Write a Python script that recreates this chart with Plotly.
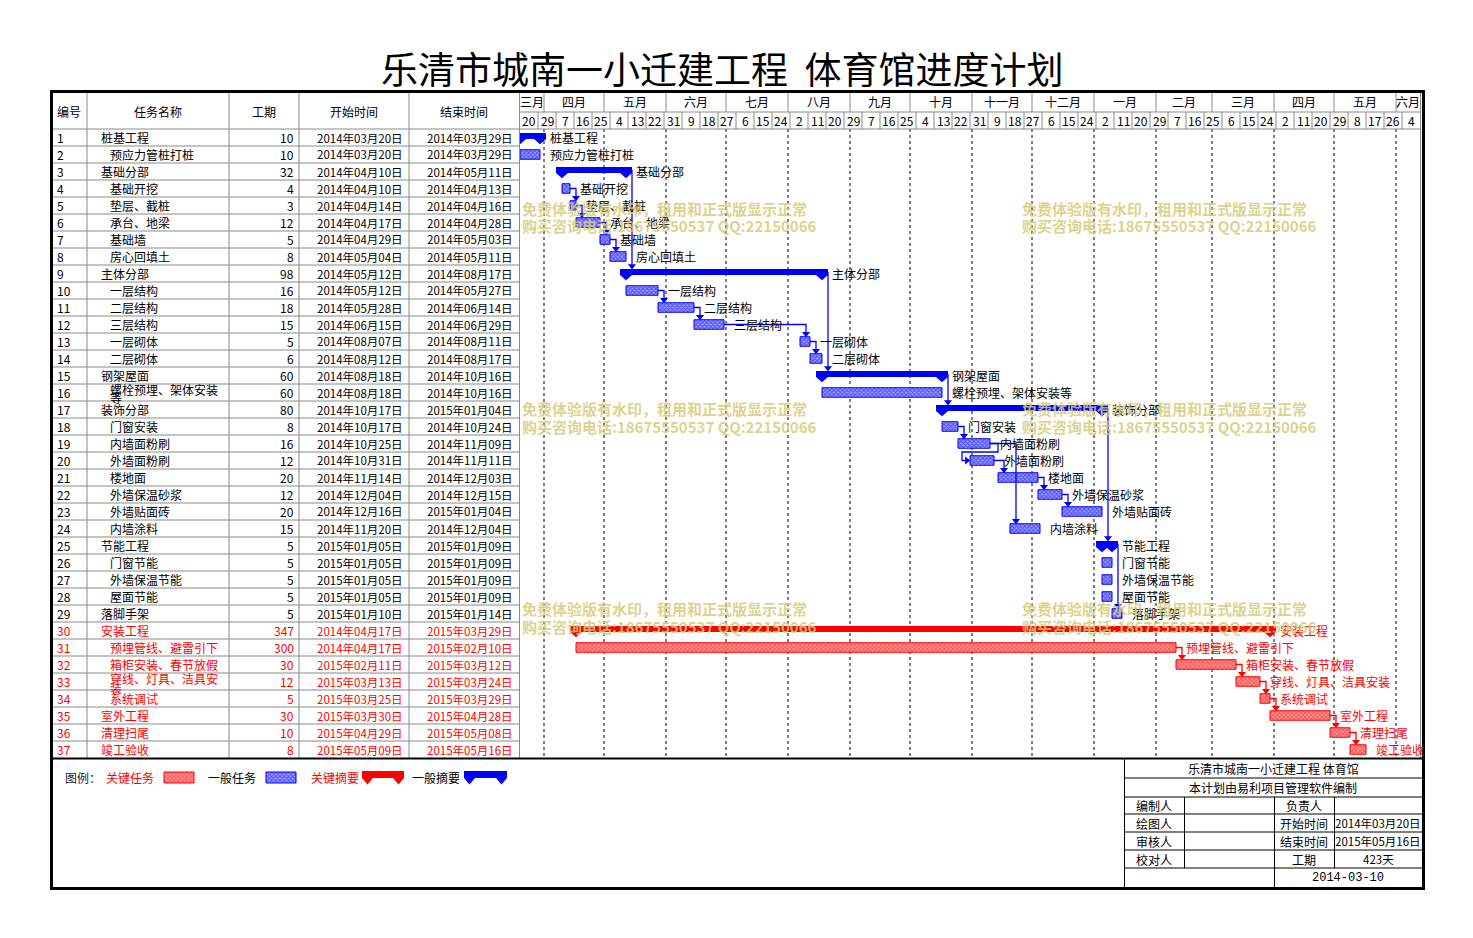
import plotly.graph_objects as go
from datetime import datetime, timedelta

W, H = 1473, 938

# ---------------- data ----------------
project_name = "乐清市城南一小迁建工程"
building_name = "体育馆"
plan_title = project_name + "  " + building_name + "进度计划"
software_note = "本计划由易利项目管理软件编制"
plan_date = "2014-03-10"

ids = list(range(1, 38))
names = [
    "桩基工程", "预应力管桩打桩", "基础分部", "基础开挖", "垫层、截桩", "承台、地梁", "基础墙", "房心回填土",
    "主体分部", "一层结构", "二层结构", "三层结构", "一层砌体", "二层砌体", "钢架屋面", "螺栓预埋、架体安装等",
    "装饰分部", "门窗安装", "内墙面粉刷", "外墙面粉刷", "楼地面", "外墙保温砂浆", "外墙贴面砖", "内墙涂料",
    "节能工程", "门窗节能", "外墙保温节能", "屋面节能", "落脚手架", "安装工程", "预埋管线、避雷引下",
    "箱柜安装、春节放假", "穿线、灯具、洁具安装", "系统调试", "室外工程", "清理扫尾", "竣工验收"]
levels = [1, 2, 1, 2, 2, 2, 2, 2, 1, 2, 2, 2, 2, 2, 1, 2, 1, 2, 2, 2, 2, 2, 2, 2,
          1, 2, 2, 2, 1, 1, 2, 2, 2, 2, 1, 1, 1]
durations = [10, 10, 32, 4, 3, 12, 5, 8, 98, 16, 18, 15, 5, 6, 60, 60, 80, 8, 16, 12, 20, 12, 20, 15,
             5, 5, 5, 5, 5, 347, 300, 30, 12, 5, 30, 10, 8]
starts = ["2014-03-20", "2014-03-20", "2014-04-10", "2014-04-10", "2014-04-14", "2014-04-17", "2014-04-29",
          "2014-05-04", "2014-05-12", "2014-05-12", "2014-05-28", "2014-06-15", "2014-08-07", "2014-08-12",
          "2014-08-18", "2014-08-18", "2014-10-17", "2014-10-17", "2014-10-25", "2014-10-31", "2014-11-14",
          "2014-12-04", "2014-12-16", "2014-11-20", "2015-01-05", "2015-01-05", "2015-01-05", "2015-01-05",
          "2015-01-10", "2014-04-17", "2014-04-17", "2015-02-11", "2015-03-13", "2015-03-25", "2015-03-30",
          "2015-04-29", "2015-05-09"]
ends = ["2014-03-29", "2014-03-29", "2014-05-11", "2014-04-13", "2014-04-16", "2014-04-28", "2014-05-03",
        "2014-05-11", "2014-08-17", "2014-05-27", "2014-06-14", "2014-06-29", "2014-08-11", "2014-08-17",
        "2014-10-16", "2014-10-16", "2015-01-04", "2014-10-24", "2014-11-09", "2014-11-11", "2014-12-03",
        "2014-12-15", "2015-01-04", "2014-12-04", "2015-01-09", "2015-01-09", "2015-01-09", "2015-01-09",
        "2015-01-14", "2015-03-29", "2015-02-10", "2015-03-12", "2015-03-24", "2015-03-29", "2015-04-28",
        "2015-05-08", "2015-05-16"]
summary_ids = [1, 3, 9, 15, 17, 25, 30]
critical_ids = [30, 31, 32, 33, 34, 35, 36, 37]
fs_links = [(4, 5), (5, 6), (6, 7), (7, 8), (3, 9), (10, 11), (11, 12), (12, 13), (13, 14), (9, 15),
            (15, 17), (18, 19), (20, 21), (21, 22), (22, 23), (19, 24), (17, 25), (25, 29),
            (31, 32), (32, 33), (33, 34), (34, 35), (35, 36), (36, 37)]
ss_links = [(19, 20)]

header_cols = ["编号", "任务名称", "工期", "开始时间", "结束时间"]
month_names_cn = ["一月", "二月", "三月", "四月", "五月", "六月", "七月", "八月", "九月", "十月", "十一月", "十二月"]
timeline_start = "2014-03-20"
timeline_end = "2015-06-13"
tick_step_days = 9
legend_labels = ["关键任务", "一般任务", "关键摘要", "一般摘要"]
info_labels = ["编制人", "负责人", "绘图人", "开始时间", "审核人", "结束时间", "校对人", "工期"]
watermark_lines = ["免费体验版有水印，租用和正式版显示正常", "购买咨询电话:18675550537 QQ:22150066"]

# ---------------- layout constants (pixels) ----------------
FONT = "Noto Sans CJK SC"
BLUE = "#0000ff"
RED = "#ff0000"
GRAY = "#8a8a8a"
ROW_TOP, ROW_H = 129, 17
GX0, GX1 = 520, 1420            # gantt area
COLS = [50, 87, 229, 299, 409, 519.5]

def d(s):
    return datetime.strptime(s, "%Y-%m-%d")

DAY = timedelta(days=1)

def px(x):
    return x / W

def py(y):
    return 1 - y / H

def ds(t):
    return t.strftime("%Y-%m-%d %H:%M:%S")

n = len(ids)
crit = [i in critical_ids for i in ids]
is_sum = [i in summary_ids for i in ids]
sdt = [d(s) for s in starts]
edt = [d(e) + DAY for e in ends]          # exclusive end

shapes = []
annotations = []

def hline(y, x0, x1, color=GRAY, width=1, dash="solid"):
    shapes.append(dict(type="line", xref="paper", yref="paper", x0=px(x0), x1=px(x1), y0=py(y), y1=py(y),
                       line=dict(color=color, width=width, dash=dash)))

def vline(x, y0, y1, color=GRAY, width=1, dash="solid"):
    shapes.append(dict(type="line", xref="paper", yref="paper", x0=px(x), x1=px(x), y0=py(y0), y1=py(y1),
                       line=dict(color=color, width=width, dash=dash)))

def text(x, y, s, color="black", size=12, anchor="left", bold=False, family=FONT):
    annotations.append(dict(xref="paper", yref="paper", x=px(x), y=py(y), text=("<b>%s</b>" % s) if bold else s,
                            showarrow=False, xanchor=anchor, yanchor="middle",
                            font=dict(family=family, size=size, color=color)))

fig = go.Figure()

# ---------------- title ----------------
text(722, 68, plan_title, size=37, anchor="center")

# ---------------- table ----------------
for k in range(n):
    hline(ROW_TOP + ROW_H * k, 50, GX0)
hline(ROW_TOP, GX0, GX1)
hline(112, GX0, GX1)
for c in COLS[1:]:
    vline(c, 93, 758)
vline(GX1 + 0.5, 93, 758)
hdr_centers = [(COLS[i] + COLS[i + 1]) / 2 for i in range(5)]
for hc, h in zip(hdr_centers, header_cols):
    text(hc, 111, h, anchor="center")

for k in range(n):
    yc = ROW_TOP + ROW_H * (k + 0.5)
    col = RED if crit[k] else "black"
    text(55, yc, str(ids[k]), col)
    nx = 99 if levels[k] == 1 else 108
    nm = names[k]
    if len(nm) > 9:
        text(nx, yc - 3.5, nm[:9], col)
        text(nx, yc + 5.5, nm[9:], col)
    else:
        text(nx, yc, nm, col)
    text(296, yc, str(durations[k]), col, anchor="right")
    text(405, yc, sdt[k].strftime("%Y年%m月%d日"), col, anchor="right", size=11.5)
    text(515, yc, d(ends[k]).strftime("%Y年%m月%d日"), col, anchor="right", size=11.5)

# ---------------- timeline header ----------------
t0, t1 = d(timeline_start), d(timeline_end)
m = datetime(t0.year, t0.month, 1)
while m < t1:
    nm_ = datetime(m.year + (m.month // 12), m.month % 12 + 1, 1)
    a, b = max(m, t0), min(nm_, t1)
    mid = a + (b - a) / 2
    annotations.append(dict(xref="x", yref="paper", x=ds(mid), y=py(102), text=month_names_cn[m.month - 1],
                            showarrow=False, xanchor="center", yanchor="middle",
                            font=dict(family=FONT, size=12, color="black")))
    if m > t0:
        shapes.append(dict(type="line", xref="x", yref="paper", x0=ds(m), x1=ds(m), y0=py(93), y1=py(112),
                           line=dict(color=GRAY, width=1)))
        shapes.append(dict(type="line", xref="x", yref="paper", x0=ds(m), x1=ds(m), y0=py(129), y1=py(758),
                           line=dict(color="black", width=1, dash="dot"), layer="below"))
    m = nm_
t = t0
while t < t1:
    tn = min(t + timedelta(days=tick_step_days), t1)
    mid = t + (tn - t) / 2
    annotations.append(dict(xref="x", yref="paper", x=ds(mid), y=py(120.5), text=str(t.day),
                            showarrow=False, xanchor="center", yanchor="middle",
                            font=dict(family=FONT, size=12, color="black")))
    if t > t0:
        shapes.append(dict(type="line", xref="x", yref="paper", x0=ds(t), x1=ds(t), y0=py(112), y1=py(129),
                           line=dict(color=GRAY, width=1)))
    t = tn

# ---------------- gantt bars ----------------
def pattern(c, bg):
    return dict(color=bg, line=dict(color=c, width=1),
                pattern=dict(shape="x", fgcolor=c, bgcolor=bg, size=3, solidity=0.5))

LIGHT = {BLUE: "#9a9aff", RED: "#ff9a9a"}
for flag, c in [(False, BLUE), (True, RED)]:
    idx = [k for k in range(n) if not is_sum[k] and crit[k] == flag]
    fig.add_trace(go.Bar(
        orientation="h", y=[ids[k] for k in idx], base=[starts[k] for k in idx],
        x=[(edt[k] - sdt[k]).total_seconds() * 1000 for k in idx],
        width=0.56, marker=pattern(c, LIGHT[c]), xaxis="x", yaxis="y", hoverinfo="skip", showlegend=False))

HALF = timedelta(days=3)
for k in range(n):
    if not is_sum[k]:
        continue
    r = ids[k]
    s, e = sdt[k], edt[k]
    top, bot, apex = r - 0.27, r + 0.09, r + 0.40
    xs = [s - HALF, e + HALF, e + HALF, s - HALF, s - HALF, None,
          s - HALF, s + HALF, s, s - HALF, None,
          e - HALF, e + HALF, e, e - HALF]
    ys = [top, top, bot, bot, top, None, bot, bot, apex, bot, None, bot, bot, apex, bot]
    c = RED if crit[k] else BLUE
    fig.add_trace(go.Scatter(x=xs, y=ys, mode="lines", fill="toself", fillcolor=c, line=dict(width=0, color=c),
                             xaxis="x", yaxis="y", hoverinfo="skip", showlegend=False))

# ---------------- links ----------------
link_x = {BLUE: [], RED: []}
link_y = {BLUE: [], RED: []}
arr = {BLUE: ([], [], []), RED: ([], [], [])}
for p, q in fs_links:
    kp, kq = p - 1, q - 1
    c = RED if crit[kq] else BLUE
    ax = sdt[kq] + timedelta(days=3)
    top = q - (0.27 if is_sum[kq] else 0.28)
    if is_sum[kp]:
        x0, y0 = edt[kp] + HALF, p - 0.09
    else:
        x0, y0 = edt[kp], p
    link_x[c] += [x0, ax, ax, None]
    link_y[c] += [y0, y0, top - 0.1, None]
    arr[c][0].append(ax); arr[c][1].append(top - 0.17); arr[c][2].append("triangle-down")
for p, q in ss_links:
    kp, kq = p - 1, q - 1
    c = RED if crit[kq] else BLUE
    xa = edt[kp] + timedelta(days=4)
    xb = sdt[kq] - timedelta(days=4)
    mid_y = (p + q) / 2
    link_x[c] += [edt[kp], xa, xa, xb, xb, sdt[kq] - timedelta(days=1), None]
    link_y[c] += [p, p, mid_y, mid_y, q, q, None]
    arr[c][0].append(sdt[kq] - timedelta(days=1.6)); arr[c][1].append(q); arr[c][2].append("triangle-right")
for c in (BLUE, RED):
    fig.add_trace(go.Scatter(x=link_x[c], y=link_y[c], mode="lines", line=dict(color=c, width=1.3),
                             xaxis="x", yaxis="y", hoverinfo="skip", showlegend=False))
    fig.add_trace(go.Scatter(x=arr[c][0], y=arr[c][1], mode="markers",
                             marker=dict(symbol=arr[c][2], size=7, color=c, line=dict(width=0)),
                             xaxis="x", yaxis="y", hoverinfo="skip", showlegend=False))

# ---------------- bar labels ----------------
for k in range(n):
    annotations.append(dict(xref="x", yref="y", x=ds(edt[k] + timedelta(days=4)), y=ids[k], text=names[k],
                            showarrow=False, xanchor="left", yanchor="middle",
                            font=dict(family=FONT, size=12, color=RED if crit[k] else "black")))

# ---------------- watermarks ----------------
for wy in (208, 408, 608):
    for wx in (520, 1020):
        for j, line in enumerate(watermark_lines):
            annotations.append(dict(xref="paper", yref="paper", x=px(wx), y=py(wy + 18 * j),
                                    text="<b>%s</b>" % line, showarrow=False, xanchor="left", yanchor="middle",
                                    font=dict(family=FONT, size=15, color="rgba(214,204,120,0.85)")))

# ---------------- legend ----------------
LY = 777
text(63, LY, "图例：", "#222222")
text(104, LY, legend_labels[0], RED)
text(206, LY, legend_labels[1], "black")
text(309, LY, legend_labels[2], RED)
text(410, LY, legend_labels[3], "black")
for bx, c in [(164, RED), (266, BLUE)]:
    fig.add_trace(go.Bar(orientation="h", y=[LY + 0.5], base=[bx], x=[30], width=[11], marker=pattern(c, LIGHT[c]),
                         xaxis="x2", yaxis="y2", hoverinfo="skip", showlegend=False))
for x0, x1, c in [(362, 404, RED), (464, 507, BLUE)]:
    xs = [x0, x1, x1, x0, x0, None, x0, x0 + 11, x0 + 5.5, x0, None, x1 - 11, x1, x1 - 5.5, x1 - 11]
    ys = [771, 771, 778, 778, 771, None, 778, 778, 784.5, 778, None, 778, 778, 784.5, 778]
    fig.add_trace(go.Scatter(x=xs, y=ys, mode="lines", fill="toself", fillcolor=c, line=dict(width=0, color=c),
                             xaxis="x2", yaxis="y2", hoverinfo="skip", showlegend=False))

# ---------------- info box ----------------
proj_start = min(sdt)
proj_end = max(d(e) for e in ends)
total_days = (proj_end - proj_start).days + 1
for y in (778, 797, 814, 832, 850, 868):
    hline(y, 1124, 1422, "black")
vline(1124.5, 758, 888, "black")
vline(1184.5, 797, 868, "black")
vline(1274.5, 797, 888, "black")
vline(1334.5, 797, 868, "black")
text(1273, 768.5, project_name + " " + building_name, anchor="center")
text(1273, 787.5, software_note, anchor="center")
rows_y = [805.5, 823, 841, 859]
vals = ["", proj_start.strftime("%Y年%m月%d日"), proj_end.strftime("%Y年%m月%d日"), "%d天" % total_days]
for j, yy in enumerate(rows_y):
    text(1154, yy, info_labels[2 * j], anchor="center")
    text(1304, yy, info_labels[2 * j + 1], anchor="center")
    text(1378, yy, vals[j], anchor="center", size=11.5)
text(1348, 877.5, plan_date, anchor="center", family="Liberation Mono")

# ---------------- frame ----------------
hline(758.5, 50, 1425, "black", 2)
shapes.append(dict(type="rect", xref="paper", yref="paper", x0=px(51.5), x1=px(1423.5), y0=py(91.5), y1=py(888.5),
                   line=dict(color="black", width=3)))

fig.update_layout(
    width=W, height=H, margin=dict(l=0, r=0, t=0, b=0),
    paper_bgcolor="white", plot_bgcolor="rgba(0,0,0,0)",
    barmode="overlay", showlegend=False,
    font=dict(family=FONT, size=12),
    xaxis=dict(type="date", domain=[GX0 / W, GX1 / W], range=[timeline_start, timeline_end], visible=False,
               anchor="y", fixedrange=True),
    yaxis=dict(domain=[0, 1], range=[0.5 + (H - ROW_TOP) / ROW_H, 0.5 - ROW_TOP / ROW_H], visible=False,
               anchor="x", fixedrange=True),
    xaxis2=dict(domain=[0, 1], range=[0, W], visible=False, anchor="y2", fixedrange=True),
    yaxis2=dict(domain=[0, 1], range=[H, 0], visible=False, anchor="x2", fixedrange=True),
    shapes=shapes, annotations=annotations,
)

fig.write_html("out.html", config={"displayModeBar": False},
               post_script="document.body.style.margin='0';document.body.style.overflow='hidden';")
